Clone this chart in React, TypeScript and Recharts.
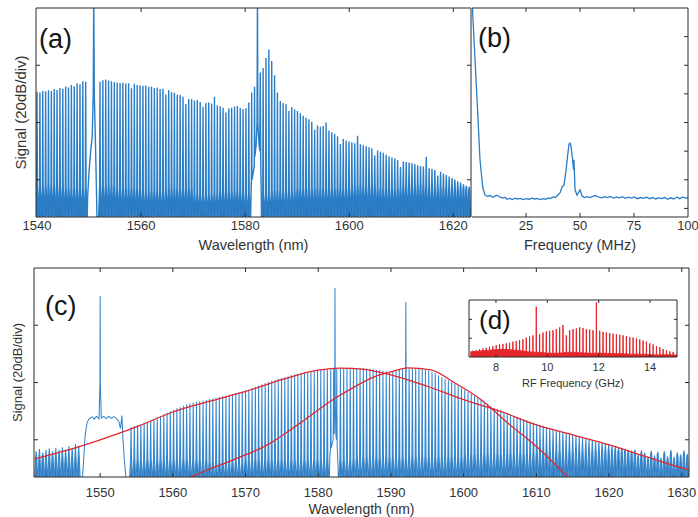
import React from 'react'
import { ComposedChart, Line, Area, XAxis, YAxis, CartesianGrid, ReferenceLine } from 'recharts'

const FONT = '"Liberation Sans", Arial, sans-serif'
const TXT = '#333333'
const AXIS = '#2b2b2b'
const BLUE = '#2a7dc7'
const BLUE_C = '#3386cd'
const BAND = '#1565b0'
const RED = '#e4262c'

// shared signal scale (dB, 20 dB per division)
const DB_DOMAIN = [-73, 0]
const DB_TICKS = [-60, -40, -20]
const B_RIGHT_TICKS = [-70, -60, -50, -40, -30, -20, -10]

// ---- (a) optical spectrum ----
const aDomain = [1539.8, 1623.4]
const aTicks = [1540, 1560, 1580, 1600, 1620]
const aTopTicks = [1560, 1580, 1600, 1620]
const aStart = 1540
const aStep = 0.55
// peak level of every comb line (dB), null = line missing (filter notch)
const aPeaks: (number | null)[] = [
  -29.3, -29.5, -29.0, -29.2, -28.7, -29.0, -28.3, -28.6, -27.9, -28.2,
  -27.4, -27.8, -26.9, -27.3, -26.3, -26.6, -25.6, -25.8, null, null,
  null, null, -25.8, -25.2, -25.0, -25.3, -25.6, -25.9, -26.0, -26.2,
  -26.1, -26.4, -26.3, -28.0, -26.5, -26.9, -27.0, -27.2, -27.1, -27.5,
  -27.5, -27.9, -27.8, -28.3, -28.2, -30.2, -28.7, -29.4, -29.6, -30.3,
  -30.4, -31.0, -33.5, -31.8, -31.9, -32.4, -32.1, -32.8, -34.5, -33.2,
  -33.0, -33.4, -31.0, -34.0, -34.3, -34.8, -36.5, -35.1, -34.8, -34.4,
  -34.2, -34.9, -35.3, -35.0, -33.0, null, null, null, null, -21.0,
  -17.5, -14.5, -18.5, -23.5, -29.5, -32.5, -33.2, -33.6, -36.0, -34.6,
  -35.4, -36.0, -36.8, -37.6, -38.3, -38.9, -39.7, -42.5, -41.0, -41.5,
  -41.2, -40.0, -42.8, -43.4, -44.0, -44.8, -47.5, -45.8, -46.3, -46.6,
  -46.9, -47.2, -44.6, -47.6, -47.9, -48.3, -48.6, -49.0, -51.5, -49.8,
  -50.2, -50.6, -51.3, -51.8, -52.2, -52.6, -53.1, -55.5, -53.6, -53.8,
  -54.0, -54.2, -54.5, -54.9, -55.2, -55.4, -52.0, -56.0, -56.2, -56.6,
  -58.5, -57.2, -57.8, -58.3, -58.9, -59.4, -59.9, -60.5, -61.0, -61.6,
  -62.1, -62.5,
]
// top of the dense base band, every 5 nm from 1540
const aFloor = [-62, -63, -62, -63, -64, -63, -65, -64, -65, -64, -63, -63, -62, -63, -62, -63, -63]
// pump lines with their skirts, [nm, dB]
const aPump1 = [
  [1549.62, -76], [1549.72, -66], [1550.0, -57], [1550.3, -50], [1550.6, -45], [1550.8, -30],
  [1550.9, 5], [1551.0, -30], [1551.2, -45], [1551.4, -62], [1551.55, -76],
]
const aPump2 = [
  [1581.0, -76], [1581.12, -66], [1581.2, -60], [1581.25, -29.5], [1581.3, -60], [1581.5, -58],
  [1581.75, -55], [1581.8, -27.5], [1581.85, -52], [1582.1, -48], [1582.28, -40], [1582.36, 5],
  [1582.44, -40], [1582.6, -46], [1582.8, -50], [1582.9, -22.5], [1583.0, -55], [1583.1, -66], [1583.15, -76],
]

// ---- (b) RF beat note ----
const bTicks = [25, 50, 75, 100]
const bTrace = [
  [0, 3], [1.4, -18], [2.8, -39], [3.7, -53], [5, -62.8], [6, -65.3], [7, -65.8], [8.3, -65.5],
  [9.7, -66.1], [10.5, -65.7], [11.6, -65.4], [12.8, -66], [14.4, -66.4], [15.3, -66.1], [16.2, -66.8],
  [17.5, -66.5], [18.8, -66.9], [19.9, -66.4], [21, -66.7], [22.3, -66.5], [23.6, -66.9], [25, -66.6],
  [26.5, -66.8], [27.8, -66.4], [29, -66.7], [30.2, -66.5], [31.5, -66.9], [33, -66.6], [34.2, -66.8],
  [35.2, -66.4], [36.4, -66.5], [37.5, -66], [38.7, -66.2], [39.8, -65.3], [40.8, -64.5], [41.7, -62.5],
  [42.6, -61.8], [43.5, -57], [44.2, -52], [44.9, -47.5], [45.4, -47.2], [45.8, -48.2], [46.5, -52.4],
  [47, -56.5], [47.2, -53], [47.7, -63.5], [48.6, -65.3], [49.3, -64.5], [50, -63.5], [50.9, -65.6],
  [52, -66.2], [53.3, -65.9], [54.6, -66.2], [56, -65.8], [57.2, -65.5], [58.5, -66], [60, -66.3],
  [61.4, -65.9], [62.8, -66.2], [64, -65.8], [65.5, -66.4], [67, -66], [68.3, -66.3], [69.6, -65.9],
  [71, -66.5], [72.4, -66.1], [73.8, -66.4], [75, -66], [76.5, -66.6], [78, -66.2], [79.4, -66.5],
  [80.8, -66.1], [82.2, -66.6], [83.6, -66.2], [85, -66.7], [86.4, -66.3], [87.8, -66.6], [89.2, -66.2],
  [90.6, -66.8], [92, -66.3], [93.4, -66.7], [94.8, -66.1], [96.2, -66.6], [97.6, -66], [99, -66.5], [100, -66.2],
]

// ---- (c) optical spectrum with fits ----
const cDomain = [1540.9, 1631]
const cTicks = [1550, 1560, 1570, 1580, 1590, 1600, 1610, 1620, 1630]
const cStart = 1541.2
const cStep = 0.45
const cPeaks: (number | null)[] = [
  -64.0, -63.2, -64.5, -63.6, -63.0, -64.0, -62.8, -63.5, -62.6, -63.4,
  -62.2, -62.8, -61.5, -62.0, null, null, null, null, null, null,
  null, null, null, null, null, null, null, null, null, -55.5,
  -55.2, -54.8, -54.6, -54.0, -53.8, -53.2, -52.8, -52.2, -51.8, -51.2,
  -50.6, -50.0, -49.6, -49.0, -48.6, -48.1, -47.6, -47.3, -47.0, -46.8,
  -46.5, -46.3, -46.0, -45.8, -45.6, -45.3, -45.1, -44.8, -44.6, -44.3,
  -44.1, -43.8, -43.4, -43.1, -42.8, -42.4, -41.9, -41.5, -41.0, -40.6,
  -40.2, -39.8, -39.4, -39.0, -38.7, -38.4, -38.1, -37.8, -37.5, -37.2,
  -37.0, -36.8, -36.6, -36.4, -36.2, -36.0, -35.8, -35.6, -35.5, -35.4,
  null, null, null, -35.1, -35.0, -34.9, -34.8, -34.8, -34.9, -34.8,
  -35.0, -35.1, -35.2, -35.3, -35.5, -35.7, -35.9, -36.0, -36.2, -36.0,
  -35.7, -35.4, -35.2, -11.9, -35.0, -35.0, -35.1, -35.2, -35.3, -35.5,
  -35.8, -36.2, -36.8, -37.5, -38.1, -38.7, -39.2, -39.7, -40.3, -41.0,
  -41.8, -42.6, -43.3, -44.0, -44.7, -45.4, -46.0, -46.7, -47.4, -48.2,
  -48.9, -49.4, -49.8, -50.3, -50.8, -51.2, -51.6, -52.0, -52.4, -52.8,
  -53.2, -53.6, -54.0, -54.4, -54.8, -55.1, -55.5, -55.9, -56.3, -56.6,
  -56.9, -57.3, -57.6, -58.0, -58.3, -58.6, -58.9, -59.2, -59.5, -59.8,
  -60.1, -60.4, -60.7, -61.0, -61.3, -61.6, -61.9, -62.2, -62.5, -62.8,
  -63.2, -63.5, -63.8, -63.5, -65.2, -63.8, -64.6, -66.0, -63.9, -65.5,
  -64.2, -66.3, -64.0, -65.8, -63.6, -66.0, -64.5, -65.2, -63.8, -65.0,
]
const cFloor = [-66, -66, -67, -67, -67, -68, -67, -67, -67, -66, -66, -66, -65, -65, -64, -64, -64, -64, -64]
const cPump1 = [
  [1547.5, -76], [1547.75, -66], [1547.95, -58], [1548.2, -54], [1548.5, -52.6], [1548.9, -52],
  [1549.2, -52.8], [1549.5, -51.8], [1549.85, -52.6], [1549.97, -40], [1550, -9.8], [1550.03, -40],
  [1550.15, -52.4], [1550.5, -51.8], [1550.85, -52.6], [1551.2, -51.8], [1551.55, -52.5], [1551.9, -51.9],
  [1552.25, -52.6], [1552.55, -53.5], [1552.8, -56], [1553, -51.5], [1553.1, -58], [1553.3, -66],
  [1553.5, -72], [1553.7, -76],
]
const cPump2 = [
  [1581.5, -76], [1581.6, -66], [1581.68, -63], [1581.72, -35.4], [1581.76, -63], [1582.05, -60],
  [1582.13, -35.3], [1582.2, -58], [1582.27, -45], [1582.3, -7], [1582.33, -45], [1582.42, -58],
  [1582.5, -60], [1582.55, -35.2], [1582.6, -62], [1582.7, -68], [1582.8, -76],
]
const cFitBroad = [
  [1541, -66.7], [1545, -64], [1550, -60], [1555, -55.5], [1560, -50.3], [1565, -46.6], [1570, -43.1],
  [1575, -39], [1580, -35.7], [1583, -35], [1586, -35.3], [1590, -37.3], [1595, -41.3], [1600, -46],
  [1605, -50], [1610, -54.8], [1615, -58.3], [1620, -61.8], [1625, -65.8], [1630, -69.8], [1631, -70.5],
]
const cFitNarrow = [
  [1562, -73.5], [1565, -70.3], [1568.3, -67], [1573, -61.8], [1577.6, -54], [1582, -46], [1585, -41.5],
  [1587.7, -38], [1590, -36.3], [1592.3, -34.9], [1595.5, -35.6], [1598.7, -40], [1602.4, -46],
  [1606, -54], [1610.2, -62.8], [1614.5, -73.5],
]

// ---- (d) RF comb inset ----
const dDomain = [6.95, 15.05]
const dTicks = [8, 10, 12, 14]
const dStart = 7.1
const dStep = 0.13
const dPeaks: (number | null)[] = [
  11, 12, 14, 15, 16, 18, 19, 21, 22, 23,
  24, 25, 27, 28, 30, 31, 34, 36, 38, 88,
  40, 43, 45, 46, 47, 49, 52, 56, 38, 47,
  49, 50, 52, 51, 49, 48, 47, 96, 46, 44,
  43, 42, 41, 40, 39, 38, 37, 35, 34, 33,
  31, 29, 27, 24, 22, 19, 17, 14, 12, 10,
  9,
]
const dFloor = [
  [7, 9], [7.25, 10], [7.5, 11], [7.75, 12], [8, 13], [8.25, 13.5], [8.5, 13], [8.75, 12], [9, 11],
  [9.25, 9], [9.5, 8.5], [9.75, 8], [10, 7], [10.25, 6.5], [10.5, 7], [10.75, 8], [11, 8.5], [11.25, 7.5],
  [11.5, 7], [11.75, 6.5], [12, 7], [12.25, 6.5], [12.5, 6], [12.75, 6], [13, 5.5], [13.25, 5], [13.5, 5],
  [13.75, 4.5], [14, 4], [14.25, 3.5], [14.5, 4], [14.75, 4], [15.05, 3.5],
]

type P = { x: number; y: number }
const pairs = (arr: number[][]): P[] => arr.map(([x, y]) => ({ x, y }))

const bandAt = (floor: number[], floorStart: number, x: number) =>
  floor[Math.max(0, Math.min(floor.length - 1, Math.floor((x - floorStart) / 5)))]

// each comb line: base -> narrow skirt -> peak -> skirt -> base
function combTrace(
  start: number, step: number, peaks: (number | null)[], floor: number[], floorStart: number,
  base: number, half: number, skirt: number, extras: number[][][],
): P[] {
  const pts: P[] = []
  peaks.forEach((pk, i) => {
    if (pk === null) return
    const x = start + i * step
    const fl = Math.min(bandAt(floor, floorStart, x), pk - 1)
    pts.push({ x: x - half, y: base }, { x: x - skirt, y: fl }, { x, y: pk }, { x: x + skirt, y: fl }, { x: x + half, y: base })
  })
  extras.forEach(seg => seg.forEach(([x, y]) => pts.push({ x, y })))
  return pts.sort((p, q) => p.x - q.x)
}

// the dense dark band at the foot of the comb lines
function combBand(start: number, step: number, peaks: (number | null)[], floor: number[], floorStart: number, half: number, skirt: number): P[] {
  const pts: P[] = []
  peaks.forEach((pk, i) => {
    if (pk === null) return
    const x = start + i * step
    const fl = Math.min(bandAt(floor, floorStart, x), pk - 1)
    pts.push({ x: x - half, y: -80 }, { x: x - skirt, y: fl }, { x: x + skirt, y: fl }, { x: x + half, y: -80 })
  })
  return pts
}

const aData = combTrace(aStart, aStep, aPeaks, aFloor, 1540, -72.5, 0.25, 0.07, [aPump1, aPump2])
const aBand = combBand(aStart, aStep, aPeaks, aFloor, 1540, 0.27, 0.12)
const cData = combTrace(cStart, cStep, cPeaks, cFloor, 1540, -73.5, 0.2, 0.07, [cPump1, cPump2])
const cBand = combBand(cStart, cStep, cPeaks, cFloor, 1540, 0.2, 0.09)
const dData = combTrace(dStart, dStep, dPeaks, [0], 7, 0, 0.02, 0.01, [])

// MATLAB-style box: top/right edges and inward tick marks on all four sides
function frame(xDom: number[], xTicks: number[], yDom: number[], yL: number[], yR: number[], w: number, h: number, len = 4) {
  const dx = (len / w) * (xDom[1] - xDom[0])
  const dy = (len / h) * (yDom[1] - yDom[0])
  const out: React.ReactElement[] = [
    <ReferenceLine key="top" y={yDom[1]} stroke={AXIS} strokeWidth={1} />,
    <ReferenceLine key="right" x={xDom[1]} stroke={AXIS} strokeWidth={1} />,
  ]
  xTicks.forEach(t => {
    out.push(<ReferenceLine key={`b${t}`} segment={[{ x: t, y: yDom[0] }, { x: t, y: yDom[0] + dy }]} stroke={AXIS} />)
    out.push(<ReferenceLine key={`t${t}`} segment={[{ x: t, y: yDom[1] }, { x: t, y: yDom[1] - dy }]} stroke={AXIS} />)
  })
  yL.forEach(t => out.push(<ReferenceLine key={`l${t}`} segment={[{ x: xDom[0], y: t }, { x: xDom[0] + dx, y: t }]} stroke={AXIS} />))
  yR.forEach(t => out.push(<ReferenceLine key={`r${t}`} segment={[{ x: xDom[1] - dx, y: t }, { x: xDom[1], y: t }]} stroke={AXIS} />))
  return out
}

const tag = (text: string, left: number, top: number, size = 27) => (
  <div style={{ position: 'absolute', left, top, fontSize: size, lineHeight: 1, color: '#151515' }}>{text}</div>
)

const PanelA = () => (
  <ComposedChart width={472} height={260} margin={{ top: 8, right: 1, bottom: 0, left: 0 }}>
    <XAxis dataKey="x" type="number" domain={aDomain} ticks={aTicks} allowDataOverflow height={43}
      tickLine={false} tickSize={0} tickMargin={4} stroke={AXIS} tick={{ fontSize: 13, fill: TXT }}
      label={{ value: 'Wavelength (nm)', position: 'insideBottom', offset: 10, fontSize: 14.5, fill: TXT }} />
    <YAxis type="number" domain={DB_DOMAIN} allowDataOverflow width={36} tick={false} tickLine={false} stroke={AXIS}
      label={{ value: 'Signal (20dB/div)', angle: -90, position: 'center', dx: 3, fontSize: 15, fill: TXT }} />
    <Area data={aBand} dataKey="y" type="linear" baseValue="dataMin" stroke="none" fill={BAND} fillOpacity={0.9} isAnimationActive={false} />
    <Line data={aData} dataKey="y" type="linear" dot={false} stroke={BLUE} strokeWidth={1.4} isAnimationActive={false} />
    {frame(aDomain, aTopTicks, DB_DOMAIN, DB_TICKS, DB_TICKS, 435, 209)}
  </ComposedChart>
)

const PanelB = () => (
  <ComposedChart width={226} height={260} margin={{ top: 8, right: 10, bottom: 0, left: 0 }}>
    <XAxis dataKey="x" type="number" domain={[0, 100]} ticks={bTicks} allowDataOverflow height={43}
      tickLine={false} tickSize={0} tickMargin={4} stroke={AXIS} tick={{ fontSize: 13, fill: TXT }}
      label={{ value: 'Frequency (MHz)', position: 'insideBottom', offset: 10, fontSize: 14.5, fill: TXT }} />
    <YAxis type="number" domain={DB_DOMAIN} allowDataOverflow width={0} tick={false} tickLine={false} stroke={AXIS} />
    <Line data={pairs(bTrace)} dataKey="y" type="linear" dot={false} stroke={BLUE} strokeWidth={1.3} isAnimationActive={false} />
    {frame([0, 100], [25, 50, 75], DB_DOMAIN, [], B_RIGHT_TICKS, 216, 209)}
  </ComposedChart>
)

const PanelC = () => (
  <ComposedChart width={698} height={257} margin={{ top: 8, right: 9, bottom: 0, left: 0 }}>
    <XAxis dataKey="x" type="number" domain={cDomain} ticks={cTicks} allowDataOverflow height={40}
      tickLine={false} tickSize={0} tickMargin={11} stroke={AXIS} tick={{ fontSize: 13, fill: TXT }}
      label={{ value: 'Wavelength (nm)', position: 'insideBottom', offset: 3, fontSize: 14, fill: TXT }} />
    <YAxis type="number" domain={DB_DOMAIN} allowDataOverflow width={34} tick={false} tickLine={false} stroke={AXIS}
      label={{ value: 'Signal (20dB/div)', angle: -90, position: 'center', dx: 0, fontSize: 13, fill: TXT }} />
    <Area data={cBand} dataKey="y" type="linear" baseValue="dataMin" stroke="none" fill={BAND} fillOpacity={0.85} isAnimationActive={false} />
    <Line data={cData} dataKey="y" type="linear" dot={false} stroke={BLUE_C} strokeWidth={1.05} isAnimationActive={false} />
    <Line data={pairs(cFitBroad)} dataKey="y" type="monotone" dot={false} stroke={RED} strokeWidth={1.3} isAnimationActive={false} />
    <Line data={pairs(cFitNarrow)} dataKey="y" type="monotone" dot={false} stroke={RED} strokeWidth={1.3} isAnimationActive={false} />
    {frame(cDomain, cTicks, DB_DOMAIN, DB_TICKS, DB_TICKS, 655, 209)}
  </ComposedChart>
)

const PanelD = () => (
  <ComposedChart width={240} height={100} margin={{ top: 5, right: 18, bottom: 0, left: 0 }}>
    <CartesianGrid horizontal={false} vertical={false} fill="#ffffff" />
    <XAxis dataKey="x" type="number" domain={dDomain} ticks={dTicks} allowDataOverflow height={38}
      tickLine={false} tickSize={0} tickMargin={6} stroke={AXIS} tick={{ fontSize: 11, fill: TXT }}
      label={{ value: 'RF Frequency (GHz)', position: 'insideBottom', offset: 8, fontSize: 11, fill: TXT }} />
    <YAxis type="number" domain={[0, 100]} allowDataOverflow width={14} tick={false} tickLine={false} stroke={AXIS} />
    <Area data={pairs(dFloor)} dataKey="y" type="linear" stroke={RED} strokeWidth={0.8} fill={RED} fillOpacity={1} isAnimationActive={false} />
    <Line data={dData} dataKey="y" type="linear" dot={false} stroke={RED} strokeWidth={1} isAnimationActive={false} />
    {frame(dDomain, dTicks, [0, 100], [33, 66], [33, 66], 208, 57, 3)}
  </ComposedChart>
)

export default function App() {
  return (
    <div style={{ position: 'absolute', left: 0, top: 0, width: 698, height: 517, overflow: 'hidden', background: '#fff', fontFamily: FONT }}>
      <div style={{ position: 'absolute', left: 0, top: 0 }}><PanelA /></div>
      <div style={{ position: 'absolute', left: 472, top: 0 }}><PanelB /></div>
      <div style={{ position: 'absolute', left: 0, top: 260 }}><PanelC /></div>
      <div style={{ position: 'absolute', left: 455, top: 295 }}><PanelD /></div>
      {tag('(a)', 39, 26)}
      {tag('(b)', 478, 25)}
      {tag('(c)', 45, 293)}
      {tag('(d)', 479, 307, 26)}
    </div>
  )
}
